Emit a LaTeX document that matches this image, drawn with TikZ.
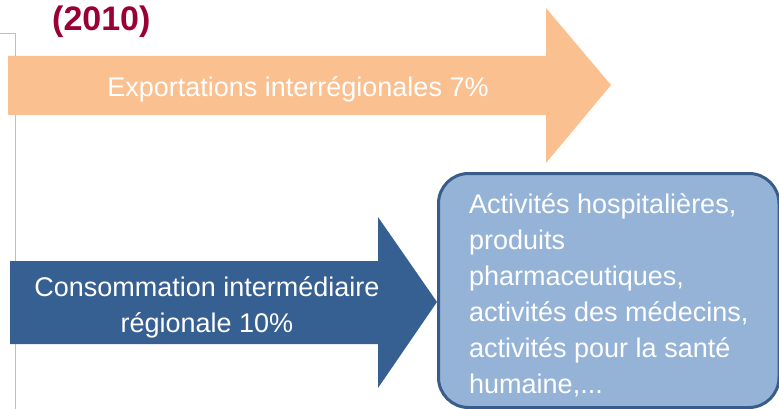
\documentclass[tikz,border=0pt]{standalone}
\usepackage{fontspec}
\setmainfont{Liberation Sans}
\usetikzlibrary{positioning}

\definecolor{peach}{HTML}{FAC090}
\definecolor{steel}{HTML}{376092}
\definecolor{paleblue}{HTML}{95B3D7}
\definecolor{darkline}{HTML}{385D8A}
\definecolor{wine}{HTML}{990033}

\begin{document}
\begin{tikzpicture}[x=1pt,y=-1pt,
	label text/.style={text=white,font=\fontsize{27}{36}\selectfont,inner sep=0pt},
	box node/.style={draw=darkline,fill=paleblue,line width=3pt,rounded corners=30pt}]
	\useasboundingbox (0,0) rectangle (779,409);
	
	% frame on the left
	\draw[black!25] (0,33) -- (15,33) -- (15,409);
	
	\node[anchor=base west,inner sep=0pt,text=wine,font=\bfseries\fontsize{34}{40}\selectfont] (year) at (52,31) {(2010)};
	
	% arrows
	\fill[peach] (8,56) -- (546,56) -- (546,8) -- (611,85) -- (546,163) -- (546,115) -- (8,115) -- cycle;
	\fill[steel] (10,261) -- (378,261) -- (378,217) -- (437,302) -- (378,388) -- (378,344) -- (10,344) -- cycle;
	\draw[box node] (438.5,173.5) rectangle (779,407.5);
	
	\node[label text,anchor=base] (export) at (298,97) {Exportations interrégionales 7\%};
	\node[label text,align=center,anchor=base] (conso) at (207,332) {Consommation intermédiaire\\régionale 10\%};
	\node[label text,align=left,anchor=north west] (produits) at (469,193) {Activités hospitalières,\\produits\\pharmaceutiques,\\activités des médecins,\\activités pour la santé\\humaine,...};
\end{tikzpicture}
\end{document}
